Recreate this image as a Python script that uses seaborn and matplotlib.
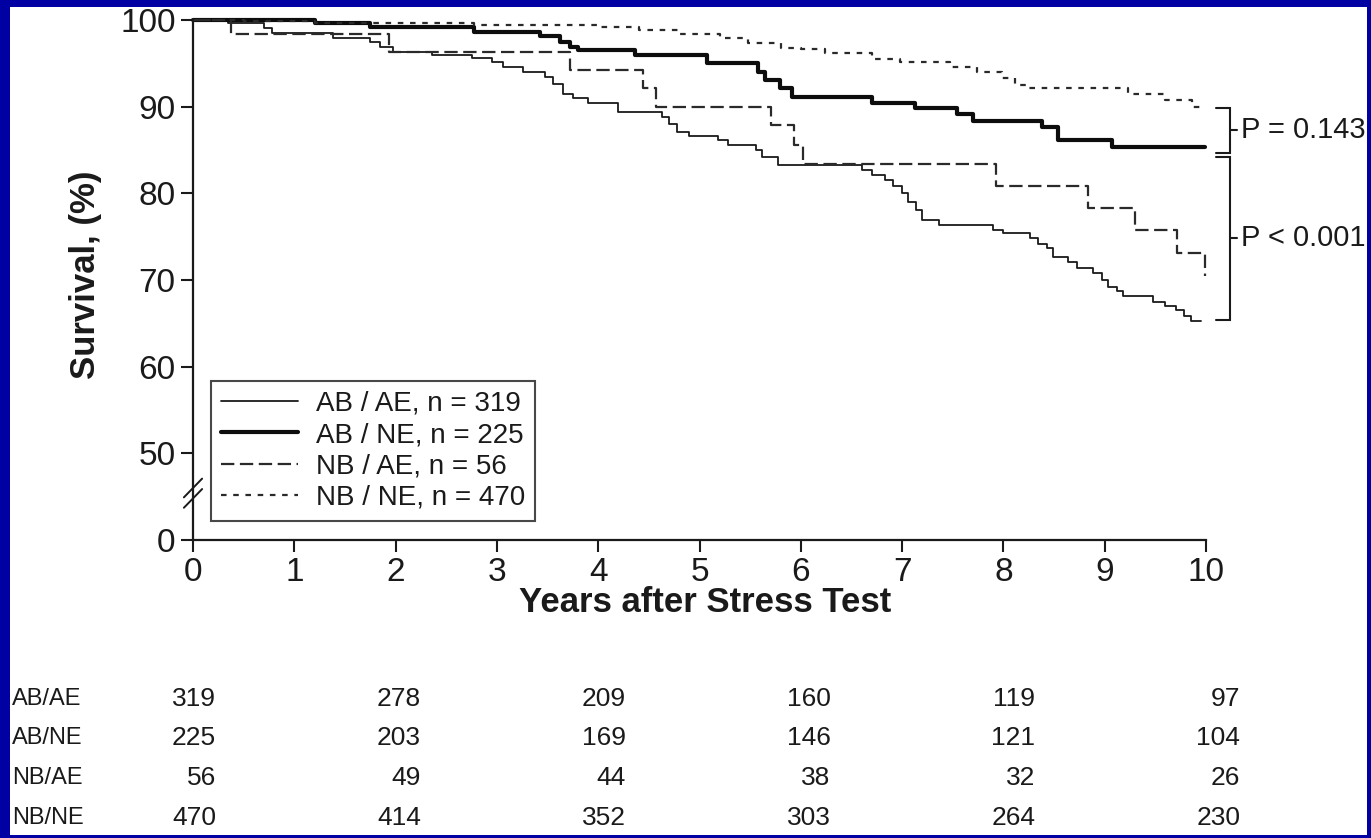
import numpy as np
import pandas as pd
import matplotlib
matplotlib.use('Agg')
import matplotlib.pyplot as plt
from matplotlib.patches import Rectangle
import seaborn as sns

# Kaplan-Meier curves (years, survival %)
t_ab_ae = [0, 0.35, 0.7, 0.78, 1.38, 1.75, 1.85, 1.97, 2.36, 2.75, 2.95, 3.06, 3.26, 3.47,
           3.55, 3.65, 3.75, 3.9, 4.2, 4.63, 4.7, 4.78, 4.9, 5.18, 5.28, 5.56, 5.62, 5.77,
           6.6, 6.7, 6.83, 6.91, 7.0, 7.06, 7.14, 7.2, 7.36, 7.9, 8.0, 8.26, 8.34, 8.43,
           8.49, 8.64, 8.73, 8.88, 8.97, 9.03, 9.12, 9.18, 9.48, 9.6, 9.7, 9.78, 9.85, 9.95]
s_ab_ae = [100, 99.7, 99.1, 98.5, 97.9, 97.5, 96.9, 96.3, 96.0, 95.6, 95.1, 94.6, 94.0, 93.4,
           92.6, 91.5, 91.0, 90.4, 89.4, 88.8, 88.0, 87.1, 86.6, 86.1, 85.6, 85.0, 84.2, 83.3,
           82.7, 82.1, 81.5, 80.8, 80.0, 79.0, 78.1, 76.9, 76.4, 75.8, 75.4, 74.8, 74.2, 73.7,
           72.7, 72.1, 71.4, 70.8, 70.0, 69.2, 68.7, 68.1, 67.5, 67.0, 66.5, 65.9, 65.3, 65.3]

t_ab_ne = [0, 1.2, 1.75, 2.77, 3.43, 3.62, 3.72, 3.8, 4.36, 5.07, 5.58, 5.65, 5.79, 5.91,
           6.7, 7.13, 7.54, 7.7, 8.38, 8.54, 9.07, 9.99]
s_ab_ne = [100, 99.7, 99.2, 98.65, 98.1, 97.5, 96.9, 96.5, 96.0, 95.0, 94.0, 93.1, 92.1, 91.1,
           90.4, 89.8, 89.2, 88.3, 87.7, 86.1, 85.3, 85.3]

t_nb_ae = [0, 0.38, 1.93, 3.72, 4.44, 4.57, 5.71, 5.93, 6.02, 7.93, 8.84, 9.3, 9.71, 9.99]
s_nb_ae = [100, 98.4, 96.3, 94.2, 92.1, 90.0, 87.9, 85.6, 83.4, 80.8, 78.3, 75.8, 73.1, 70.5]

t_nb_ne = [0, 0.5, 1.2, 2.77, 4.0, 4.4, 4.79, 5.2, 5.48, 5.8, 6.0, 6.24, 6.7, 6.98, 7.47,
           7.74, 7.99, 8.11, 8.22, 9.23, 9.6, 9.86, 9.99]
s_nb_ne = [100, 99.9, 99.6, 99.4, 99.2, 98.8, 98.4, 97.9, 97.3, 96.8, 96.6, 96.2, 95.5, 95.2,
           94.6, 94.0, 93.3, 92.5, 92.1, 91.5, 90.8, 90.0, 89.8]

legend_labels = ['AB / AE, n = 319', 'AB / NE, n = 225', 'NB / AE, n = 56', 'NB / NE, n = 470']

# numbers at risk
risk_years = [0, 2, 4, 6, 8, 10]
risk_groups = ['AB/AE', 'AB/NE', 'NB/AE', 'NB/NE']
risk_ab_ae = [319, 278, 209, 160, 119, 97]
risk_ab_ne = [225, 203, 169, 146, 121, 104]
risk_nb_ae = [56, 49, 44, 38, 32, 26]
risk_nb_ne = [470, 414, 352, 303, 264, 230]

# log-rank comparisons shown on the right
p_labels = ['P = 0.143', 'P < 0.001']
p_ranges = [(89.8, 84.7), (84.2, 65.4)]

BLUE = '#0000A3'
INK = '#1a1a1a'

sns.set_theme(style='ticks')
plt.rcParams['font.family'] = ['Liberation Sans', 'DejaVu Sans']

fig = plt.figure(figsize=(13.71, 8.38), dpi=100, facecolor=BLUE)
fig.add_artist(Rectangle((10 / 1371, 3 / 838), (1367 - 10) / 1371, (831 - 3) / 838,
                         transform=fig.transFigure, facecolor='white',
                         edgecolor='none', zorder=-1))

ax = fig.add_axes([193 / 1371, 1 - 540 / 838, (1206 - 193) / 1371, 520 / 838])
ax.set_facecolor('none')

styles = [
    dict(t=t_ab_ae, s=s_ab_ae, lw=1.3, ls='-', color=INK),
    dict(t=t_ab_ne, s=s_ab_ne, lw=3.0, ls='-', color='#0d0d0d'),
    dict(t=t_nb_ae, s=s_nb_ae, lw=1.6, ls=(0, (6, 2.5)), color='#2a2a2a'),
    dict(t=t_nb_ne, s=s_nb_ne, lw=1.6, ls=(0, (2.5, 3)), color='#2a2a2a'),
]
for st, lab in zip(styles, legend_labels):
    df = pd.DataFrame({'years': st['t'], 'survival': st['s']})
    sns.lineplot(data=df, x='years', y='survival', ax=ax, estimator=None,
                 drawstyle='steps-post', color=st['color'], linewidth=st['lw'],
                 linestyle=st['ls'], clip_on=False)

ax.set_xlim(0, 10)
ax.set_ylim(40, 100)
ax.set_xticks(range(0, 11))
ax.set_yticks([40, 50, 60, 70, 80, 90, 100])
ax.set_yticklabels(['0', '50', '60', '70', '80', '90', '100'])
ax.tick_params(axis='both', labelsize=24, length=8.5, width=1.5, pad=4,
               colors=INK, direction='out')
sns.despine(ax=ax)
for sp in ['left', 'bottom']:
    ax.spines[sp].set_linewidth(1.6)
    ax.spines[sp].set_color(INK)

ax.set_xlabel('Years after Stress Test', fontsize=25, fontweight='bold', color=INK)
ax.set_ylabel('Survival, (%)', fontsize=25, fontweight='bold', color=INK)
ax.xaxis.label.set_va('center')
ax.xaxis.set_label_coords(0.506, -0.12)
ax.yaxis.set_label_coords(-0.09, 0.51)

# axis break marks
for yc in (0.080, 0.100):
    ax.plot([-0.009, 0.009], [yc - 0.018, yc + 0.018], transform=ax.transAxes,
            color=INK, lw=1.4, clip_on=False)

# legend
leg = ax.legend(handles=ax.lines[:4], labels=legend_labels, loc='upper left',
                bbox_to_anchor=(0.018, 0.306), borderaxespad=0, fontsize=20,
                frameon=True, fancybox=False, handlelength=2.75, handletextpad=0.65,
                labelspacing=0.19, borderpad=0.36)
leg.get_frame().set_edgecolor(INK)
leg.get_frame().set_linewidth(1.5)
for txt in leg.get_texts():
    txt.set_color(INK)

# p-value brackets
for lab, (top, bot) in zip(p_labels, p_ranges):
    xb = 10.24
    ax.plot([10.1, xb, xb, 10.1], [top, top, bot, bot], color=INK, lw=1.5,
            clip_on=False, solid_joinstyle='miter')
    mid = (top + bot) / 2
    ax.plot([xb, 10.31], [mid, mid], color=INK, lw=1.5, clip_on=False)
    ax.text(10.35, mid, lab, fontsize=21, color=INK, va='center', ha='left',
            clip_on=False)

# numbers-at-risk table
row_py = [699, 738, 778, 818]
trans = matplotlib.transforms.blended_transform_factory(ax.transData, fig.transFigure)
for name, counts, py in zip(risk_groups, [risk_ab_ae, risk_ab_ne, risk_nb_ae, risk_nb_ne], row_py):
    fig.text(12 / 1371, 1 - py / 838, name, fontsize=17, color=INK, va='center', ha='left')
    for yr, n in zip(risk_years, counts):
        ax.text(0.227 + 1.011 * yr, 1 - py / 838, str(n), transform=trans, fontsize=19,
                color=INK, va='center', ha='right', clip_on=False)

fig.savefig('out.png', dpi=100, facecolor=fig.get_facecolor())
